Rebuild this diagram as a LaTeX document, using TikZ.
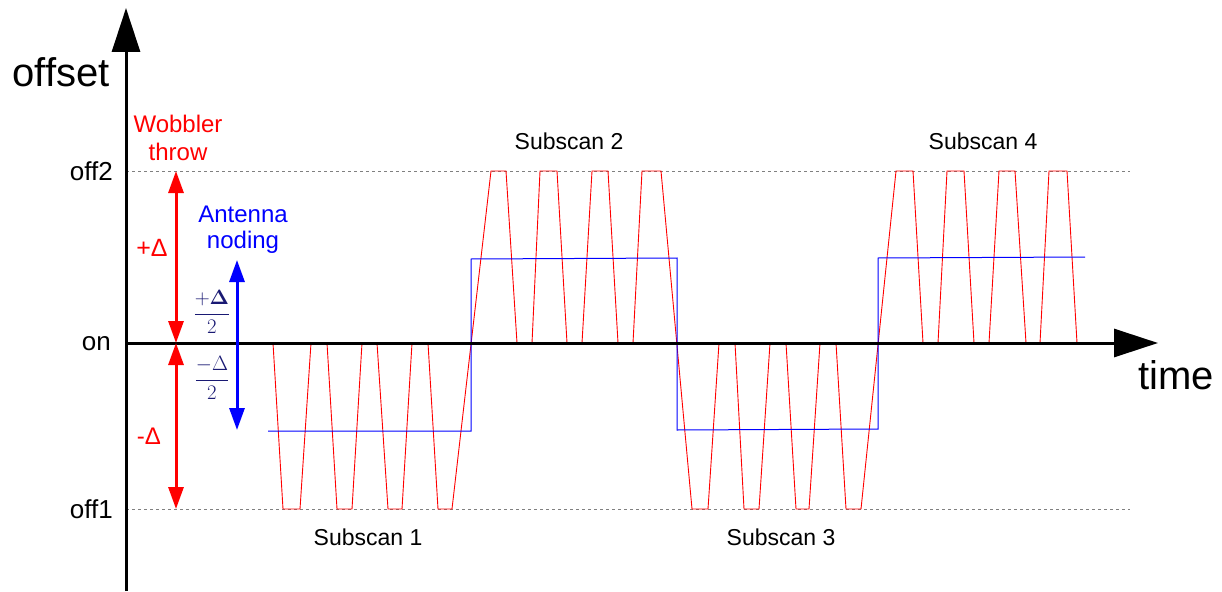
\documentclass[tikz,border=0pt]{standalone}
\usepackage[no-math]{fontspec}
\setmainfont{Liberation Sans}
\usetikzlibrary{arrows.meta}
\definecolor{fracblue}{RGB}{25,25,115}

\begin{document}
\begin{tikzpicture}[x=1pt,y=-1pt,
		axis/.style={line width=3pt, -{Triangle[length=44pt,width=28pt]}},
		level/.style={gray, line width=0.8pt, dash pattern=on 3pt off 3pt},
		throwarrow/.style={line width=3pt, {Triangle[length=22pt,width=15pt]}-{Triangle[length=22pt,width=15pt]}},
		lbl/.style={font=\fontsize{23}{27}\selectfont, inner sep=0pt},
		biglbl/.style={font=\fontsize{40}{44}\selectfont, inner sep=0pt}]

		\useasboundingbox (0,0) rectangle (1222,591);

		% levels
		\coordinate (o2) at (126,171);
		\coordinate (o0) at (126,343);
		\coordinate (o1) at (126,509);
		\draw[level] (o2) -- (1130,171);
		\draw[level] (o1) -- (1130,509);

		% wobbler signal
		\draw[red, line width=0.9pt] plot coordinates {(273,343) (283,509) (300,509) (311,343) (327,343) (337,509) (352,509) (362,343)
			(377,343) (388,509) (402,509) (412,343) (428,343) (438,509) (452,509) (491,171) (506,171) (517,343)
			(532,343) (540,171) (557,171) (567,343) (582,343) (592,171) (608,171) (618,343) (633,343) (642,171)
			(661,171) (692,509) (708,509) (719,343) (735,343) (744,509) (759,509) (770,343) (786,343) (796,509)
			(809,509) (820,343) (836,343) (846,509) (861,509) (896,171) (913,171) (923,343) (938,343) (947,171)
			(964,171) (974,343) (989,343) (999,171) (1015,171) (1026,343) (1040,343) (1049,171) (1067,171) (1077,343)};

		% antenna nodding
		\draw[blue, line width=1pt] plot coordinates {(268,431) (471,431) (471,259) (677,258) (677,430) (878,429) (878,258) (1085,257)};

		% axes
		\draw[axis] (126,591) -- (126,8);
		\draw[axis] (o0) -- (1158,343);
		\node[biglbl] (offset) at (61,72) {offset};
		\node[biglbl] (time) at (1176,375) {time};

		\node[lbl, anchor=east, font=\fontsize{26}{28}\selectfont] (off2) at (113,171) {off2};
		\node[lbl, anchor=east, font=\fontsize{26}{28}\selectfont] (on) at (111,344) {on};
		\node[lbl, anchor=east, font=\fontsize{26}{28}\selectfont] (off1) at (113,509) {off1};

		% wobbler throw
		\coordinate (w2) at (176,171);
		\coordinate (w0) at (176,343);
		\coordinate (w1) at (176,509);
		\draw[throwarrow, red] (w0) -- (w2);
		\draw[throwarrow, red] (w0) -- (w1);
		\node[lbl, red, align=center, font=\fontsize{24}{28}\selectfont] (wob) at (178,138) {Wobbler\\throw};
		\node[lbl, red, font=\fontsize{25}{28}\selectfont] (plus) at (152,248) {+Δ};
		\node[lbl, red, font=\fontsize{24}{28}\selectfont] (minus) at (149,436) {-Δ};

		% antenna noding
		\coordinate (n2) at (237,260);
		\coordinate (n1) at (237,430);
		\draw[throwarrow, blue] (n1) -- (n2);
		\node[lbl, blue, align=center, font=\fontsize{24}{26}\selectfont] (nod) at (243,230) {Antenna\\noding};
		\node[fracblue, inner sep=0pt, font=\fontsize{21}{24}\selectfont] (half2) at (212,312) {$\displaystyle\frac{\mathbf{+\Delta}}{2}$};
		\node[fracblue, inner sep=0pt, font=\fontsize{21}{24}\selectfont] (half1) at (212,378) {$\displaystyle\frac{-\Delta}{2}$};

		% subscans
		\node[lbl] (sub1) at (368,537) {Subscan 1};
		\node[lbl] (sub2) at (569,141) {Subscan 2};
		\node[lbl] (sub3) at (781,537) {Subscan 3};
		\node[lbl] (sub4) at (983,141) {Subscan 4};
	\end{tikzpicture}
\end{document}
